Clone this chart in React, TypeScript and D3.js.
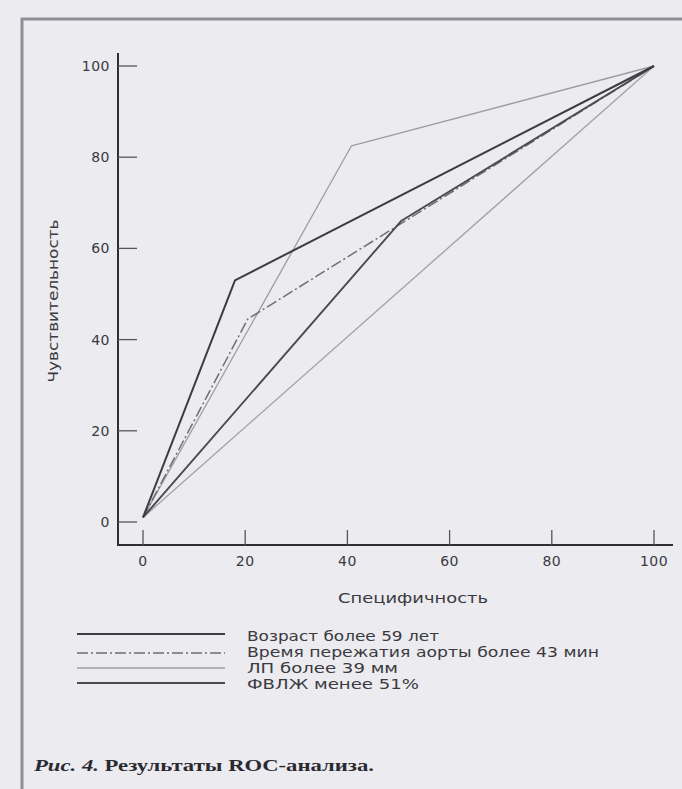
import React, { useEffect, useRef } from 'react';
import * as d3 from 'd3';

// values (specificity, sensitivity)
const xTicks = [0, 20, 40, 60, 80, 100];
const yTicks = [0, 20, 40, 60, 80, 100];

const vozrast = [[0, 1], [18, 53], [100, 100]];
const vremya = [[0, 1], [20.5, 44.5], [100, 100]];
const lp = [[0, 1], [40.8, 82.5], [100, 100]];
const fvlzh = [[0, 1], [50.5, 66], [100, 100]];
const diagonal = [[0, 1], [100, 100]];

const legendLabels = [
  'Возраст более 59 лет',
  'Время пережатия аорты более 43 мин',
  'ЛП более 39 мм',
  'ФВЛЖ менее 51%',
];

const FONT = '"DejaVu Sans", "Liberation Sans", Arial, sans-serif';

export default function App() {
  const ref = useRef<SVGSVGElement>(null);

  useEffect(() => {
    document.body.style.margin = '0';
    const svg = d3.select(ref.current);
    svg.selectAll('*').remove();

    // page background and frame
    svg.append('rect').attr('width', 682).attr('height', 789).attr('fill', '#ebebf0');
    svg.append('path')
      .attr('d', 'M22,789 L22,19 L682,19')
      .attr('fill', 'none')
      .attr('stroke', '#8e8e94')
      .attr('stroke-width', 3);

    const x = d3.scaleLinear().domain([0, 100]).range([143, 654]);
    const y = d3.scaleLinear().domain([0, 100]).range([522, 66]);

    // axes
    svg.append('line').attr('x1', 118).attr('x2', 118).attr('y1', 53).attr('y2', 545)
      .attr('stroke', '#2e2e33').attr('stroke-width', 2);
    svg.append('line').attr('x1', 117).attr('x2', 673).attr('y1', 545).attr('y2', 545)
      .attr('stroke', '#2e2e33').attr('stroke-width', 2);

    const yt = svg.append('g');
    yTicks.forEach(t => {
      yt.append('line').attr('x1', 118).attr('x2', 137).attr('y1', y(t)).attr('y2', y(t))
        .attr('stroke', '#555').attr('stroke-width', 1.3);
      yt.append('text').attr('x', 110).attr('y', y(t)).attr('dy', '0.36em')
        .attr('text-anchor', 'end').attr('font-family', FONT).attr('font-size', 14)
        .attr('letter-spacing', 0.5).attr('fill', '#3a3a3f').text(t);
    });
    const xt = svg.append('g');
    xTicks.forEach(t => {
      xt.append('line').attr('x1', x(t)).attr('x2', x(t)).attr('y1', 545).attr('y2', 530)
        .attr('stroke', '#555').attr('stroke-width', 1.3);
      xt.append('text').attr('x', x(t)).attr('y', 561).attr('dy', '0.36em')
        .attr('text-anchor', 'middle').attr('font-family', FONT).attr('font-size', 14)
        .attr('letter-spacing', 0.5).attr('fill', '#3a3a3f').text(t);
    });

    svg.append('text').attr('x', 413).attr('y', 598).attr('dy', '0.36em')
      .attr('text-anchor', 'middle').attr('font-family', FONT).attr('font-size', 14)
      .attr('textLength', 150).attr('lengthAdjust', 'spacingAndGlyphs')
      .attr('fill', '#3a3a3f').text('Специфичность');
    svg.append('text').attr('transform', 'translate(53,301) rotate(-90)').attr('dy', '0.36em')
      .attr('text-anchor', 'middle').attr('font-family', FONT).attr('font-size', 14)
      .attr('textLength', 163).attr('lengthAdjust', 'spacingAndGlyphs')
      .attr('fill', '#3a3a3f').text('Чувствительность');

    const line = d3.line<number[]>().x(d => x(d[0])).y(d => y(d[1]));

    const series = [
      { data: diagonal, stroke: '#a4a4aa', width: 1.4, dash: null },
      { data: lp, stroke: '#9c9ca2', width: 1.3, dash: null },
      { data: vremya, stroke: '#6e6e74', width: 1.5, dash: '11,3,2,3' },
      { data: fvlzh, stroke: '#4a4a50', width: 1.9, dash: null },
      { data: vozrast, stroke: '#3c3c42', width: 2, dash: null },
    ];
    series.forEach(s => {
      svg.append('path').datum(s.data)
        .attr('fill', 'none')
        .attr('stroke', s.stroke)
        .attr('stroke-width', s.width)
        .attr('stroke-dasharray', s.dash)
        .attr('stroke-linejoin', 'round')
        .attr('d', line);
    });

    // legend
    const legendStyles = [
      { stroke: '#3c3c42', width: 2, dash: null, y: 634 },
      { stroke: '#6e6e74', width: 1.5, dash: '11,3,2,3', y: 653 },
      { stroke: '#9c9ca2', width: 1.3, dash: null, y: 668 },
      { stroke: '#4a4a50', width: 1.9, dash: null, y: 683 },
    ];
    const textWidths = [192, 352, 151, 172];
    legendLabels.forEach((label, i) => {
      const st = legendStyles[i];
      svg.append('line').attr('x1', 77).attr('x2', 225).attr('y1', st.y).attr('y2', st.y)
        .attr('stroke', st.stroke).attr('stroke-width', st.width)
        .attr('stroke-dasharray', st.dash);
      svg.append('text').attr('x', 247).attr('y', 636 + i * 16).attr('dy', '0.36em')
        .attr('font-family', FONT).attr('font-size', 14.5)
        .attr('textLength', textWidths[i]).attr('lengthAdjust', 'spacingAndGlyphs')
        .attr('fill', '#3a3a3f').text(label);
    });

    // caption
    const cap = svg.append('text').attr('x', 34).attr('y', 765).attr('dy', '0.36em')
      .attr('font-family', '"Liberation Serif", "Times New Roman", serif')
      .attr('font-size', 17).attr('font-weight', 'bold').attr('fill', '#2a2a30')
      .attr('textLength', 340).attr('lengthAdjust', 'spacingAndGlyphs');
    cap.append('tspan').attr('font-style', 'italic').text('Рис. 4. ');
    cap.append('tspan').text('Результаты ROC-анализа.');
  }, []);

  return <svg ref={ref} width={682} height={789} style={{ display: 'block' }} />;
}
